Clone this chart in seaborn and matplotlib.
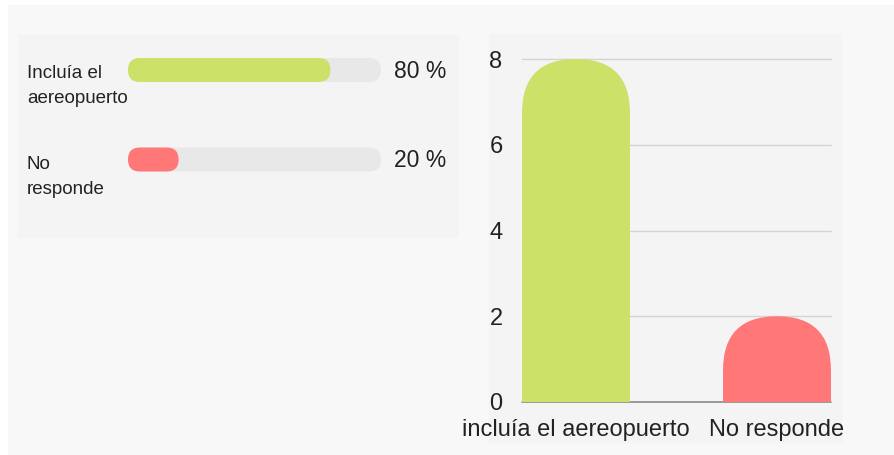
import numpy as np
import matplotlib.pyplot as plt
import seaborn as sns
from matplotlib.patches import Rectangle, FancyBboxPatch
from matplotlib.transforms import IdentityTransform

# Data
categories = ["incluía el aereopuerto", "No responde"]
counts = [8, 2]
list_labels = ["Incluía el\naereopuerto", "No\nresponde"]
percents = [80, 20]
colors = ["#cbe168", "#ff7777"]
y_ticks = [0, 2, 4, 6, 8]

W, H = 894, 455
sns.set_style("white")
plt.rcParams["font.family"] = ["Liberation Sans", "DejaVu Sans"]

fig = plt.figure(figsize=(W / 100, H / 100), dpi=100)
fig.patch.set_facecolor("white")


def frac(x0, y0, x1, y1):
    # pixel box (top-left origin) -> figure fraction rect
    return [x0 / W, 1 - y1 / H, (x1 - x0) / W, (y1 - y0) / H]


# card and panel backgrounds
fig.patches.append(Rectangle((8 / W, 0), 1, 1 - 5 / H, transform=fig.transFigure,
                             color="#f8f8f8", zorder=-3))
for box in [(18, 35, 458, 237), (489, 34, 841, 442)]:
    x, y, w, h = frac(*box)
    fig.patches.append(Rectangle((x, y), w, h, transform=fig.transFigure,
                                 color="#f4f4f4", zorder=-2))

# ---- left: progress list ----
axl = fig.add_axes(frac(128, 25.25, 381, 204.25))
sns.barplot(x=[100] * len(percents), y=list_labels, color="#e8e8e8", ax=axl,
            orient="h", width=0.268, saturation=1)
sns.barplot(x=percents, y=list_labels, palette=colors, hue=list_labels,
            legend=False, ax=axl, orient="h", width=0.268, saturation=1)
axl.set_xlim(0, 100)
axl.set_ylim(1.5, -0.5)
axl.axis("off")
fig.canvas.draw()
for p in list(axl.patches):
    bb = p.get_window_extent()
    r = bb.height / 2
    fp = FancyBboxPatch((bb.x0, bb.y0), bb.width, bb.height,
                        boxstyle=f"round,pad=0,rounding_size={r}",
                        transform=IdentityTransform(), color=p.get_facecolor(),
                        lw=0, zorder=p.get_zorder())
    p.set_visible(False)
    fig.patches.append(fp)

for i, (lab, pc) in enumerate(zip(list_labels, percents)):
    fig.text(27 / W, 1 - (65 + i * 91) / H, lab, fontsize=13.5, va="top",
             ha="left", linespacing=1.65, color="#222222")
    fig.text(446 / W, 1 - (71 + i * 89) / H, f"{pc} %", fontsize=16.5,
             va="center", ha="right", color="#222222")

# ---- right: bar chart with rounded tops ----
ax = fig.add_axes(frac(522, 59, 831, 402))
sns.barplot(x=categories, y=counts, hue=categories, palette=colors,
            legend=False, ax=ax, width=0.537, saturation=1)
ax.set_xlim(-0.2687, 1.2687)
ax.set_ylim(0, 8)
ax.set_facecolor("none")
ax.set_yticks(y_ticks)
for yv in y_ticks[1:]:
    ax.axhline(yv, color="#d4d4d4", lw=1, zorder=0, clip_on=False)
ax.axhline(0, color="#8a8a8a", lw=1.2, zorder=0, clip_on=False)
sns.despine(ax=ax, left=True, bottom=True)
ax.tick_params(axis="both", length=0, labelsize=17, colors="#222222")
ax.tick_params(axis="y", pad=14)
ax.tick_params(axis="x", pad=12)
ax.set_xlabel("")
ax.set_ylabel("")

fig.canvas.draw()
for p in list(ax.patches):
    bb = p.get_window_extent()
    r = bb.width / 2
    fp = FancyBboxPatch((bb.x0, bb.y0 - r), bb.width, bb.height + r,
                        boxstyle=f"round,pad=0,rounding_size={r}",
                        transform=IdentityTransform(), color=p.get_facecolor(),
                        lw=0, zorder=2)
    fp.set_clip_box(ax.bbox)
    p.set_visible(False)
    ax.add_artist(fp)

fig.savefig("out.png", dpi=100)
